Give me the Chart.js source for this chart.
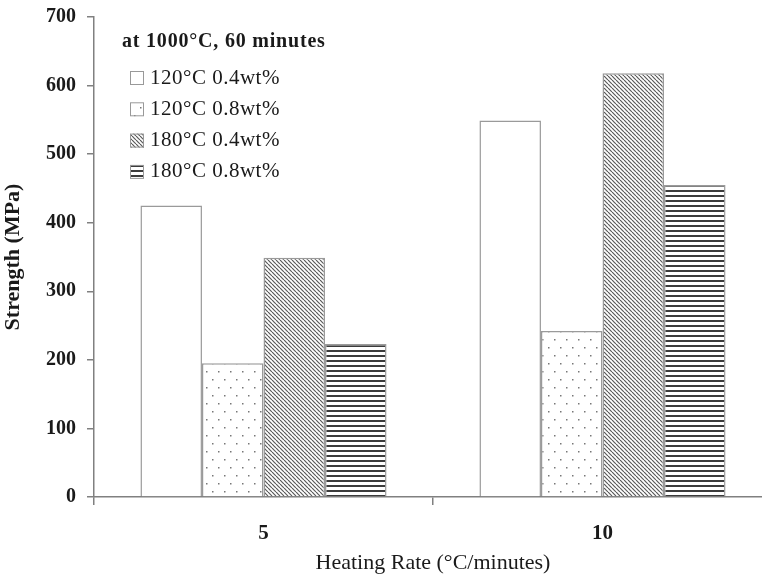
<!DOCTYPE html>
<html><head><meta charset="utf-8">
<script src="https://cdn.jsdelivr.net/npm/chart.js@4/dist/chart.umd.min.js"></script>
<style>html,body{margin:0;padding:0;background:#fff;overflow:hidden}#wrap{width:778px;height:576px;position:relative}</style>
</head><body><div id="wrap"><canvas id="c" width="778" height="576"></canvas></div>
<script>
const categories = ['5', '10'];
const seriesLabels = ['120\u00B0C 0.4wt%', '120\u00B0C 0.8wt%', '180\u00B0C 0.4wt%', '180\u00B0C 0.8wt%'];
const s120_04 = [425, 549];
const s120_08 = [195, 242];
const s180_04 = [349, 618];
const s180_08 = [223, 455];
const yTicks = [0, 100, 200, 300, 400, 500, 600, 700];
const legendTitle = 'at 1000\u00B0C, 60 minutes';

function tile(w, h, draw) {
  const c = document.createElement('canvas'); c.width = w; c.height = h;
  const x = c.getContext('2d'); x.fillStyle = '#fff'; x.fillRect(0, 0, w, h); draw(x);
  return x.createPattern(c, 'repeat');
}
const pWhite = '#ffffff';
const pDots = tile(12, 16, x => { x.fillStyle = '#777'; x.fillRect(2, 3, 1.5, 1.5); x.fillRect(8, 11, 1.5, 1.5); });
const pDiag = tile(4, 4, x => { x.strokeStyle = '#5a5a5a'; x.lineWidth = 1.2; for (const k of [-4, 0, 4]) { x.beginPath(); x.moveTo(k, 0); x.lineTo(k + 4, 4); x.stroke(); } });
const pHoriz = tile(5, 5, x => { x.fillStyle = '#3c3c3c'; x.fillRect(0, 0, 5, 2); });
const fills = [pWhite, pDots, pDiag, pHoriz];
const seriesData = [s120_04, s120_08, s180_04, s180_08];

const legendPlugin = {
  id: 'customLegend',
  afterDatasetsDraw(chart) {
    const c = chart.ctx; c.save();
    c.fillStyle = '#1a1a1a'; c.textBaseline = 'middle'; c.textAlign = 'left';
    c.font = 'bold 20px "Liberation Serif"';
    try { c.letterSpacing = '0.8px'; } catch (e) {}
    c.fillText(legendTitle, 122, 42);
    c.font = '21px "Liberation Serif"';
    try { c.letterSpacing = '0.5px'; } catch (e) {}
    chart.data.datasets.forEach((ds, i) => {
      const cy = 77 + i * 31.3;
      c.fillStyle = ds.backgroundColor; c.fillRect(130, cy - 6, 14, 14);
      c.strokeStyle = '#999'; c.lineWidth = 1; c.strokeRect(130.5, cy - 5.5, 13, 13);
      c.fillStyle = '#1a1a1a'; c.fillText(ds.label, 150, cy + 1);
    });
    c.restore();
  }
};

new Chart(document.getElementById('c'), {
  type: 'bar',
  data: {
    labels: categories,
    datasets: seriesLabels.map((l, i) => ({
      label: l, data: seriesData[i], backgroundColor: fills[i],
      borderColor: '#9a9a9a', borderWidth: 1.5,
      categoryPercentage: 0.726, barPercentage: 1.0
    }))
  },
  options: {
    responsive: false, animation: false,
    layout: { padding: { top: 17, right: 6, left: 0, bottom: 0 } },
    plugins: { legend: { display: false }, tooltip: { enabled: false } },
    scales: {
      x: {
        grid: { display: true, drawOnChartArea: false, drawTicks: true, tickLength: 8, color: '#808080', lineWidth: 1.5, offset: true },
        border: { display: true, color: '#808080', width: 1.5 },
        ticks: { color: '#1a1a1a', font: { family: 'Liberation Serif', size: 21, weight: 'bold' }, padding: 16 },
        title: { display: true, text: 'Heating Rate (\u00B0C/minutes)', color: '#1a1a1a', font: { family: 'Liberation Serif', size: 22 }, padding: { top: 0, bottom: 0 } },
        afterFit(s) { s.height = 79; s.paddingLeft = 0; s.paddingRight = 0; }
      },
      y: {
        min: 0, max: 700,
        afterBuildTicks(s) { s.ticks = yTicks.map(v => ({ value: v })); },
        grid: { display: true, drawOnChartArea: false, drawTicks: true, tickLength: 7, color: '#808080', lineWidth: 1.5 },
        border: { display: true, color: '#808080', width: 1.5 },
        ticks: { color: '#1a1a1a', font: { family: 'Liberation Serif', size: 20, weight: 'bold' }, padding: 11 },
        title: { display: true, text: 'Strength (MPa)', color: '#1a1a1a', font: { family: 'Liberation Serif', size: 22, weight: 'bold' }, padding: { top: 0, bottom: 2 } },
        afterFit(s) { s.width = 94; s.paddingTop = 0; s.paddingBottom = 0; }
      }
    }
  },
  plugins: [legendPlugin]
});
</script></body></html>
